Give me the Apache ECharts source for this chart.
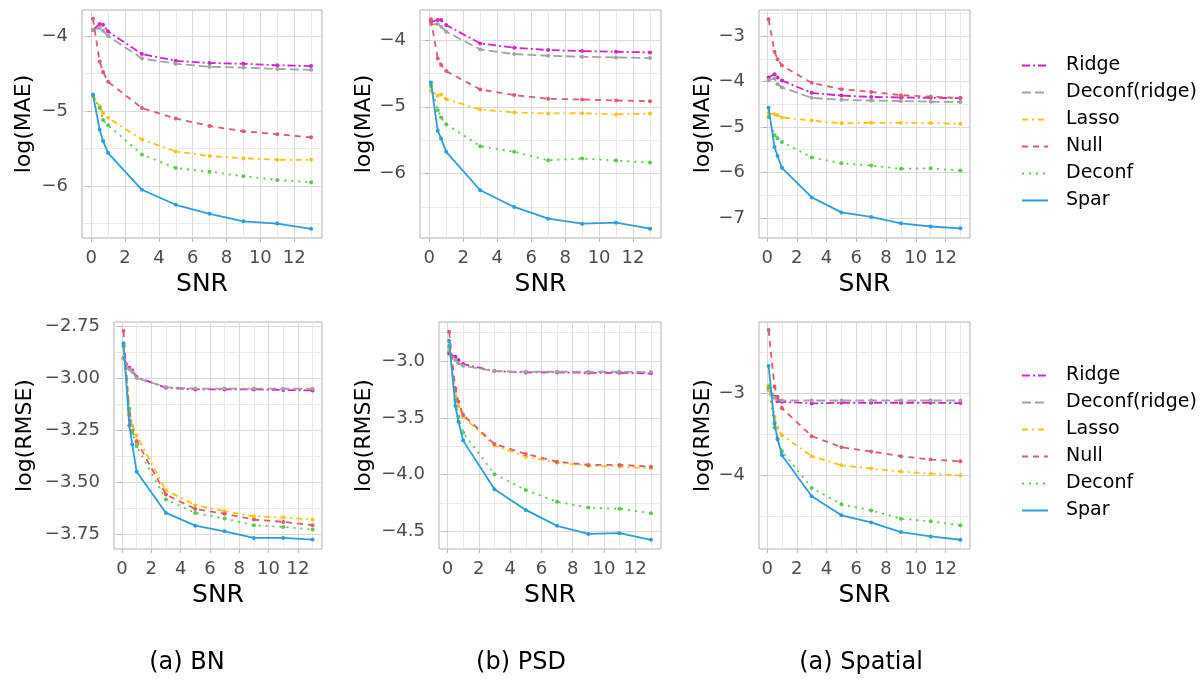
<!DOCTYPE html>
<html><head><meta charset="utf-8">
<script src="https://cdn.jsdelivr.net/npm/echarts@6/dist/echarts.min.js"></script>
<style>html,body{margin:0;padding:0;background:#fff}#c{width:1204px;height:682px}</style>
</head><body><div id="c"></div>
<script>
// ---------------- data ----------------
const snr = [0.1, 0.5, 0.7, 1, 3, 5, 7, 9, 11, 13];
const methods = ['Ridge', 'Deconf(ridge)', 'Lasso', 'Null', 'Deconf', 'Spar'];

// log(MAE) - BN
const maeBN_Ridge  = [-3.92, -3.84, -3.85, -3.94, -4.24, -4.33, -4.36, -4.37, -4.39, -4.40];
const maeBN_DRidge = [-3.92, -3.89, -3.93, -4.00, -4.30, -4.37, -4.41, -4.42, -4.44, -4.45];
const maeBN_Lasso  = [-4.79, -4.94, -5.03, -5.09, -5.38, -5.54, -5.60, -5.63, -5.65, -5.65];
const maeBN_Null   = [-3.77, -4.34, -4.48, -4.61, -4.96, -5.10, -5.20, -5.27, -5.31, -5.35];
const maeBN_Deconf = [-4.80, -4.96, -5.12, -5.19, -5.58, -5.76, -5.81, -5.87, -5.92, -5.95];
const maeBN_Spar   = [-4.78, -5.25, -5.40, -5.56, -6.05, -6.25, -6.37, -6.47, -6.50, -6.57];

// log(MAE) - PSD
const maePSD_Ridge  = [-3.725, -3.70, -3.70, -3.775, -4.05, -4.115, -4.15, -4.165, -4.175, -4.185];
const maePSD_DRidge = [-3.765, -3.76, -3.80, -3.875, -4.14, -4.21, -4.235, -4.25, -4.26, -4.27];
const maePSD_Lasso  = [-4.76, -4.835, -4.815, -4.885, -5.04, -5.085, -5.10, -5.095, -5.115, -5.10];
const maePSD_Null   = [-3.69, -4.275, -4.375, -4.465, -4.74, -4.825, -4.88, -4.89, -4.905, -4.915];
const maePSD_Deconf = [-4.685, -5.05, -5.16, -5.26, -5.59, -5.675, -5.80, -5.775, -5.805, -5.835];
const maePSD_Spar   = [-4.635, -5.36, -5.475, -5.675, -6.25, -6.50, -6.675, -6.75, -6.735, -6.825];

// log(MAE) - Spatial
const maeSP_Ridge  = [-3.91, -3.84, -3.91, -3.98, -4.25, -4.31, -4.34, -4.35, -4.36, -4.365];
const maeSP_DRidge = [-3.97, -3.93, -4.06, -4.13, -4.36, -4.40, -4.42, -4.43, -4.445, -4.45];
const maeSP_Lasso  = [-4.70, -4.72, -4.74, -4.79, -4.86, -4.92, -4.91, -4.91, -4.915, -4.93];
const maeSP_Null   = [-2.63, -3.345, -3.51, -3.65, -4.03, -4.17, -4.23, -4.30, -4.335, -4.36];
const maeSP_Deconf = [-4.78, -5.18, -5.25, -5.33, -5.67, -5.80, -5.85, -5.92, -5.91, -5.96];
const maeSP_Spar   = [-4.58, -5.44, -5.64, -5.90, -6.55, -6.88, -6.98, -7.12, -7.19, -7.23];

// log(RMSE) - BN
const rmseBN_Ridge  = [-2.905, -2.95, -2.963, -2.995, -3.046, -3.054, -3.054, -3.054, -3.057, -3.059];
const rmseBN_DRidge = [-2.905, -2.958, -2.97, -3.0, -3.043, -3.05, -3.05, -3.05, -3.051, -3.051];
const rmseBN_Lasso  = [-2.846, -3.147, -3.227, -3.275, -3.537, -3.609, -3.638, -3.662, -3.667, -3.678];
const rmseBN_Null   = [-2.774, -3.174, -3.254, -3.302, -3.558, -3.627, -3.65, -3.678, -3.689, -3.705];
const rmseBN_Deconf = [-2.846, -3.147, -3.262, -3.326, -3.582, -3.646, -3.673, -3.705, -3.713, -3.726];
const rmseBN_Spar   = [-2.833, -3.227, -3.318, -3.449, -3.646, -3.707, -3.734, -3.766, -3.766, -3.774];

// log(RMSE) - PSD
const rmsePSD_Ridge  = [-2.933, -2.962, -2.991, -3.026, -3.088, -3.10, -3.10, -3.103, -3.103, -3.108];
const rmsePSD_DRidge = [-2.909, -2.991, -3.02, -3.041, -3.088, -3.094, -3.094, -3.094, -3.094, -3.097];
const rmsePSD_Lasso  = [-2.874, -3.27, -3.40, -3.489, -3.744, -3.841, -3.894, -3.923, -3.929, -3.943];
const rmsePSD_Null   = [-2.742, -3.24, -3.357, -3.475, -3.73, -3.817, -3.885, -3.914, -3.914, -3.929];
const rmsePSD_Deconf = [-2.868, -3.343, -3.489, -3.63, -3.996, -4.134, -4.239, -4.289, -4.30, -4.339];
const rmsePSD_Spar   = [-2.821, -3.396, -3.533, -3.70, -4.128, -4.31, -4.45, -4.521, -4.515, -4.573];

// log(RMSE) - Spatial
const rmseSP_Ridge  = [-2.943, -3.041, -3.094, -3.102, -3.122, -3.114, -3.114, -3.114, -3.114, -3.118];
const rmseSP_DRidge = [-2.959, -3.053, -3.073, -3.086, -3.086, -3.086, -3.086, -3.086, -3.086, -3.086];
const rmseSP_Lasso  = [-2.902, -3.286, -3.42, -3.51, -3.767, -3.878, -3.918, -3.955, -3.98, -4.0];
const rmseSP_Null   = [-2.224, -2.918, -3.041, -3.18, -3.522, -3.657, -3.71, -3.767, -3.808, -3.829];
const rmseSP_Deconf = [-2.918, -3.412, -3.563, -3.706, -4.155, -4.355, -4.429, -4.531, -4.563, -4.612];
const rmseSP_Spar   = [-2.665, -3.367, -3.555, -3.755, -4.257, -4.49, -4.576, -4.694, -4.747, -4.788];

// tick labels
const xTicks = [0, 2, 4, 6, 8, 10, 12];
const xMinor = [1, 3, 5, 7, 9, 11, 13];
const yTicksMaeBN  = [-6, -5, -4];             const yMinorMaeBN  = [-6.5, -5.5, -4.5];
const yTicksMaePSD = [-6, -5, -4];             const yMinorMaePSD = [-6.5, -5.5, -4.5];
const yTicksMaeSP  = [-7, -6, -5, -4, -3];     const yMinorMaeSP  = [-6.5, -5.5, -4.5, -3.5, -2.5];
const yTicksRmseBN  = [-3.75, -3.5, -3.25, -3, -2.75]; const yMinorRmseBN  = [-3.625, -3.375, -3.125, -2.875];
const yTicksRmsePSD = [-4.5, -4, -3.5, -3];    const yMinorRmsePSD = [-4.25, -3.75, -3.25, -2.75];
const yTicksRmseSP  = [-4, -3];                const yMinorRmseSP  = [-4.5, -3.5, -2.5];
const captions = ['(a) BN', '(b) PSD', '(a) Spatial'];

// ---------------- styles / layout ----------------
const FONT = 'DejaVu Sans';
const styles = {
  'Ridge':         {color: '#D424C6', dash: [8, 3, 2, 3]},
  'Deconf(ridge)': {color: '#A3A3A3', dash: [9, 4]},
  'Lasso':         {color: '#F5C518', dash: [6, 4, 2, 4]},
  'Null':          {color: '#E25A6E', dash: [6, 5]},
  'Deconf':        {color: '#5CCB4C', dash: [2, 5]},
  'Spar':          {color: '#2C9DE0', dash: 'solid'}
};

const panels = [
  {grid: {left: 82,  top: 10, width: 240, height: 228}, min: -6.693, max: -3.653, ticks: yTicksMaeBN,  minor: yMinorMaeBN,  dec: 0, name: 'log(MAE)', gap: 47,
   data: [maeBN_Ridge, maeBN_DRidge, maeBN_Lasso, maeBN_Null, maeBN_Deconf, maeBN_Spar]},
  {grid: {left: 420, top: 10, width: 241, height: 228}, min: -6.965, max: -3.55, ticks: yTicksMaePSD, minor: yMinorMaePSD, dec: 0, name: 'log(MAE)', gap: 45,
   data: [maePSD_Ridge, maePSD_DRidge, maePSD_Lasso, maePSD_Null, maePSD_Deconf, maePSD_Spar]},
  {grid: {left: 759, top: 10, width: 211, height: 228}, min: -7.443, max: -2.427, ticks: yTicksMaeSP,  minor: yMinorMaeSP,  dec: 0, name: 'log(MAE)', gap: 45,
   data: [maeSP_Ridge, maeSP_DRidge, maeSP_Lasso, maeSP_Null, maeSP_Deconf, maeSP_Spar]},
  {grid: {left: 114, top: 322, width: 208, height: 227}, min: -3.819, max: -2.731, ticks: yTicksRmseBN,  minor: yMinorRmseBN,  dec: 2, name: 'log(RMSE)', gap: 78,
   data: [rmseBN_Ridge, rmseBN_DRidge, rmseBN_Lasso, rmseBN_Null, rmseBN_Deconf, rmseBN_Spar]},
  {grid: {left: 439, top: 322, width: 222, height: 227}, min: -4.654, max: -2.656, ticks: yTicksRmsePSD, minor: yMinorRmsePSD, dec: 1, name: 'log(RMSE)', gap: 64,
   data: [rmsePSD_Ridge, rmsePSD_DRidge, rmsePSD_Lasso, rmsePSD_Null, rmsePSD_Deconf, rmsePSD_Spar]},
  {grid: {left: 759, top: 322, width: 211, height: 227}, min: -4.901, max: -2.127, ticks: yTicksRmseSP,  minor: yMinorRmseSP,  dec: 0, name: 'log(RMSE)', gap: 45,
   data: [rmseSP_Ridge, rmseSP_DRidge, rmseSP_Lasso, rmseSP_Null, rmseSP_Deconf, rmseSP_Spar]}
];
const captionX = [187, 521, 861];

const fmt = (d) => (v) => Number(v).toFixed(d).replace('-', '\u2212');

const grids = [], xAxes = [], yAxes = [], series = [];
panels.forEach((p, i) => {
  grids.push(Object.assign({show: true, borderColor: '#b3b3b3', borderWidth: 1, backgroundColor: '#fff', containLabel: false, outerBoundsMode: 'none'}, p.grid));
  // main x axis
  xAxes.push({
    gridIndex: i, type: 'value', min: -0.545, max: 13.645, position: 'bottom',
    axisLine: {show: false},
    axisTick: {show: true, customValues: xTicks, length: 4, lineStyle: {color: '#b3b3b3'}},
    axisLabel: {show: true, customValues: xTicks, color: '#4d4d4d', fontSize: 18, fontFamily: FONT, margin: 11},
    splitLine: {show: true, lineStyle: {color: '#dadada', width: 1}},
    name: 'SNR', nameLocation: 'middle', nameGap: 34,
    nameTextStyle: {color: '#000', fontSize: 25, fontFamily: FONT}
  });
  // minor x grid
  xAxes.push({
    gridIndex: i, type: 'value', min: -0.545, max: 13.645, position: 'top',
    axisLine: {show: false}, axisLabel: {show: false},
    axisTick: {show: false, customValues: xMinor},
    splitLine: {show: true, lineStyle: {color: '#e9e9e9', width: 1}}
  });
  yAxes.push({
    gridIndex: i, type: 'value', min: p.min, max: p.max, position: 'left',
    axisLine: {show: false},
    axisTick: {show: true, customValues: p.ticks, length: 4, lineStyle: {color: '#b3b3b3'}},
    axisLabel: {show: true, customValues: p.ticks, color: '#4d4d4d', fontSize: 18, fontFamily: FONT, margin: 14, formatter: fmt(p.dec)},
    splitLine: {show: true, lineStyle: {color: '#dadada', width: 1}},
    name: p.name, nameLocation: 'middle', nameRotate: 90, nameGap: p.gap,
    nameTextStyle: {color: '#000', fontSize: 22, fontFamily: FONT}
  });
  yAxes.push({
    gridIndex: i, type: 'value', min: p.min, max: p.max, position: 'right',
    axisLine: {show: false}, axisLabel: {show: false},
    axisTick: {show: false, customValues: p.minor},
    splitLine: {show: true, lineStyle: {color: '#e9e9e9', width: 1}}
  });
  methods.forEach((m, j) => {
    const st = styles[m];
    series.push({
      type: 'line', name: m, xAxisIndex: 2 * i, yAxisIndex: 2 * i,
      data: snr.map((x, k) => [x, p.data[j][k]]),
      symbol: 'circle', symbolSize: 4, showSymbol: true,
      lineStyle: {color: st.color, width: 1.8, type: st.dash},
      itemStyle: {color: st.color},
      emphasis: {disabled: true}, silent: true, z: 2 + j
    });
  });
});

const legendBase = {
  orient: 'vertical', left: 1016, itemWidth: 26, itemHeight: 20, itemGap: 8,
  selectedMode: false, data: methods,
  itemStyle: {opacity: 0},
  textStyle: {color: '#000', fontSize: 19, fontFamily: FONT, padding: [0, 0, 0, 13]}
};

const option = {
  animation: false,
  backgroundColor: '#fff',
  textStyle: {fontFamily: FONT},
  grid: grids, xAxis: xAxes, yAxis: yAxes, series: series,
  legend: [
    Object.assign({}, legendBase, {top: 51}),
    Object.assign({}, legendBase, {top: 361})
  ],
  graphic: captions.map((c, i) => ({
    type: 'text', x: captionX[i], y: 663,
    style: {text: c, fill: '#000', fontSize: 24, fontFamily: FONT, align: 'center', verticalAlign: 'middle'}
  }))
};

const chart = echarts.init(document.getElementById('c'), null, {renderer: 'canvas'});
chart.setOption(option);
</script>
</body></html>
